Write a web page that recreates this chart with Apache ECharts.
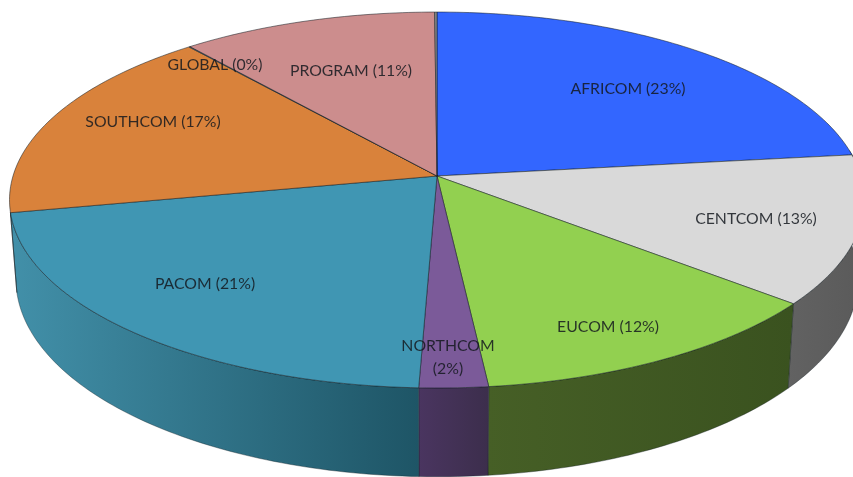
<!DOCTYPE html>
<html>
<head>
<meta charset="utf-8">
<title>COCOM share</title>
<style>
html,body{margin:0;padding:0;background:#fff;}
#chart{width:853px;height:477px;}
</style>
<script src="https://cdn.jsdelivr.net/npm/echarts@6/dist/echarts.min.js"></script>
</head>
<body>
<div id="chart"></div>
<script>
// slices clockwise from 12 o'clock, last one is the thin unlabelled grey sliver
var names = ['AFRICOM', 'CENTCOM', 'EUCOM', 'NORTHCOM', 'PACOM', 'SOUTHCOM', 'GLOBAL', 'PROGRAM', ''];
// slice sizes, labels print them rounded
var shares = [23.15, 12.8, 12.35, 2.3, 21.3, 17, 0.05, 10.95, 0.1];

// colours and label spots are kept apart from the data
var topColors = ['#3366ff', '#d9d9d9', '#92d050', '#7b5a99', '#4096b3', '#d9823b', '#8a8a8a', '#cc8d8d', '#8a8a8a'];
var wallLeft = ['#2a4fc0', '#626262', '#465f26', '#4a3560', '#4290a9', '#a8642c', '#666666', '#9c6c6c', '#666666'];
var wallRight = ['#1d3a90', '#5a5a5a', '#3a521f', '#3c2e4c', '#1e5566', '#8a5224', '#666666', '#855c5c', '#666666'];
var labelSpots = [[628, 89], [756, 219], [608, 327], [448, 357], [205, 284], [153, 122], [215, 65], [351, 71], [0, 0]];

// tilted disc: centre point, radii, perspective strength
var CX = 437, CY = 176, RX = 424, RY = 184.9, PERSP = 0.1277;
// where the front wall is seen, in degrees
var WALL_FROM = 82, WALL_TO = 259;

var total = shares.reduce(function (a, b) { return a + b; }, 0);
var starts = [];
var running = 0;
shares.forEach(function (s) {
	starts.push(running);
	running += s;
});

function toAngle(v) {
	return echarts.number.linearMap(v, [0, total], [0, 360]);
}

// angle on the disc -> pixel on the top face
function topPoint(deg) {
	var r = deg * Math.PI / 180;
	var u = Math.sin(r), v = -Math.cos(r);
	var d = 1 - PERSP * v;
	return [CX + RX * u / d, CY + RY * v / d];
}

// same angle on the bottom rim
function basePoint(deg) {
	var p = topPoint(deg);
	return [CX + (p[0] - CX) * 0.985, CY + 78 + (p[1] - CY) * 1.051];
}

function arc(from, to, fn) {
	var pts = [];
	var n = Math.max(2, Math.ceil(Math.abs(to - from)));
	for (var i = 0; i <= n; i++) {
		pts.push(fn(from + (to - from) * i / n));
	}
	return pts;
}

function sliceRange(api) {
	var a = toAngle(api.value(1));
	return [a, a + toAngle(api.value(0))];
}

function renderWall(params, api) {
	var range = sliceRange(api);
	var a = Math.max(range[0], WALL_FROM);
	var b = Math.min(range[1], WALL_TO);
	if (b <= a) {
		return null;
	}
	var i = params.dataIndex;
	var points = arc(a, b, topPoint).concat(arc(b, a, basePoint));
	return {
		type: 'polygon',
		shape: { points: points },
		style: {
			fill: {
				type: 'linear', x: 0, y: 0, x2: 1, y2: 0,
				colorStops: [
					{ offset: 0, color: wallLeft[i] },
					{ offset: 1, color: wallRight[i] }
				]
			},
			stroke: 'rgba(15,25,30,0.45)',
			lineWidth: 0.8
		}
	};
}

function renderTop(params, api) {
	var range = sliceRange(api);
	var points = [[CX, CY]].concat(arc(range[0], range[1], topPoint));
	return {
		type: 'polygon',
		shape: { points: points },
		style: {
			fill: topColors[params.dataIndex],
			stroke: 'rgba(15,25,30,0.65)',
			lineWidth: 0.8
		}
	};
}

function renderLabel(params, api) {
	var i = params.dataIndex;
	if (!names[i]) {
		return null;
	}
	var sep = names[i] === 'NORTHCOM' ? '\n' : ' ';
	return {
		type: 'text',
		style: {
			x: labelSpots[i][0],
			y: labelSpots[i][1],
			text: names[i] + sep + '(' + Math.round(api.value(0)) + '%)',
			font: '15.8px Lato, "Open Sans", sans-serif',
			lineHeight: 23,
			fill: 'rgba(20,25,30,0.85)',
			align: 'center',
			verticalAlign: 'middle'
		}
	};
}

var rows = shares.map(function (s, i) {
	return [s, starts[i]];
});

function layer(renderer) {
	return {
		type: 'custom',
		coordinateSystem: 'none',
		silent: true,
		animation: false,
		clip: false,
		renderItem: renderer,
		data: rows
	};
}

var myChart = echarts.init(document.getElementById('chart'), null, { renderer: 'canvas' });
myChart.setOption({
	backgroundColor: '#fff',
	animation: false,
	series: [layer(renderWall), layer(renderTop), layer(renderLabel)]
});
</script>
</body>
</html>
